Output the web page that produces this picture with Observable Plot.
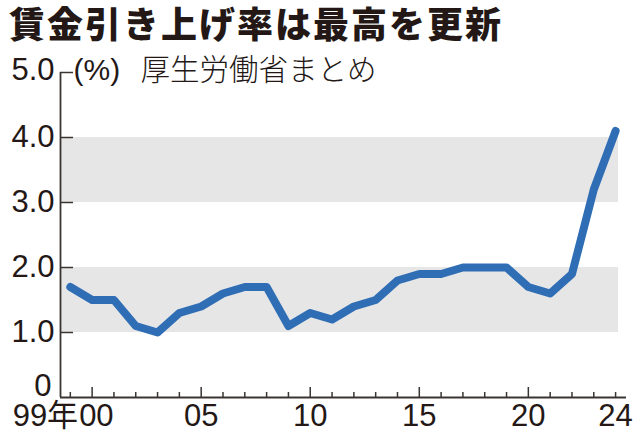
<!DOCTYPE html>
<html><head><meta charset="utf-8">
<script src="https://cdn.jsdelivr.net/npm/d3@7"></script>
<script src="https://cdn.jsdelivr.net/npm/@observablehq/plot@0.6"></script>
<style>
body{margin:0;background:#fff;}
#title{font-family:"Noto Sans CJK JP";font-weight:900;font-size:36px;letter-spacing:2px;line-height:44px;height:44px;padding-left:9px;color:#231815;white-space:nowrap;}
#chart svg{display:block;}
</style></head><body>
<div id="title">賃金引き上げ率は最高を更新</div>
<div id="chart"></div>
<script>
// Data
const years = [1999,2000,2001,2002,2003,2004,2005,2006,2007,2008,2009,2010,2011,2012,2013,2014,2015,2016,2017,2018,2019,2020,2021,2022,2023,2024];
const rates = [1.7,1.5,1.5,1.1,1.0,1.3,1.4,1.6,1.7,1.7,1.1,1.3,1.2,1.4,1.5,1.8,1.9,1.9,2.0,2.0,2.0,1.7,1.6,1.9,3.2,4.1];
const yTicks = [0,1,2,3,4,5];
const yTickLabels = ["0","1.0","2.0","3.0","4.0","5.0"];
const xTicks = [2000,2005,2010,2015,2020,2024];
const xTickLabels = ["00","05","10","15","20","24"];
const firstYearLabel = "99年";
const bands = [[1,2],[3,4]];
const unitLabel = "(%)";
const sourceLabel = "厚生労働省まとめ";

// Layout
const W = 640, H = 396, ML = 60, MR = 14, MT = 28, MB = 43;
const X0 = 1998.55, X1 = 2024.5;
const pxPerYear = (W - ML - MR) / (X1 - X0);
const unitsPerPx = 5 / (H - MT - MB);
const BAND_END = X0 + 558 / pxPerYear;
const ink = "#231815";
const axisInk = "#3a3533";
const num = "Liberation Sans, Arial, sans-serif";
const cjk = "Noto Sans CJK JP, sans-serif";

const yLab = (i) => yTickLabels[i];
const midIdx = [1, 2, 3, 4];

const chart = Plot.plot({
  width: W, height: H,
  marginLeft: ML, marginRight: MR, marginTop: MT, marginBottom: MB,
  x: {domain: [X0, X1], axis: null},
  y: {domain: [0, 5], axis: null},
  style: {background: "#fff", overflow: "visible"},
  marks: [
    Plot.rectY(bands, {x1: () => X0, x2: () => BAND_END, y1: d => d[0], y2: d => d[1], fill: "#e6e6e6"}),
    Plot.ruleY(yTicks.filter(v => v > 0), {x1: () => X0, x2: () => X0 + 13 / pxPerYear, y: d => d, stroke: axisInk, strokeWidth: 1.5}),
    Plot.ruleX(years, {x: d => d, y1: () => 0, y2: d => (d % 5 === 0 ? 10 : 5) * unitsPerPx, stroke: axisInk, strokeWidth: 1.5}),
    Plot.ruleX([X0], {y1: () => 0, y2: () => 5, stroke: axisInk, strokeWidth: 1.8}),
    Plot.ruleY([0], {x1: () => X0, x2: () => X1, stroke: axisInk, strokeWidth: 1.8}),
    Plot.line(rates, {x: (d, i) => years[i], y: d => d, stroke: "#2f6db5", strokeWidth: 8, strokeLinejoin: "round", strokeLinecap: "round"}),
    Plot.text(midIdx, {x: () => X0, y: i => yTicks[i], text: i => yLab(i), textAnchor: "end", dx: -6, fontSize: 31, fontFamily: num, fill: ink}),
    Plot.text([5], {x: () => X0, y: i => yTicks[i], text: i => yLab(i), textAnchor: "end", dx: -6, dy: -2, fontSize: 31, fontFamily: num, fill: ink}),
    Plot.text([0], {x: () => X0, y: i => yTicks[i], text: i => yLab(i), textAnchor: "end", dx: -9, dy: -11, fontSize: 31, fontFamily: num, fill: ink}),
    Plot.text(xTicks.slice(1), {x: d => d, y: () => 0, text: (d, i) => xTickLabels[i + 1], dy: 19, fontSize: 31, fontFamily: num, fill: ink}),
    Plot.text([xTickLabels[0]], {x: () => xTicks[0], y: () => 0, text: d => d, textAnchor: "start", dx: -13, dy: 19, fontSize: 31, fontFamily: num, fill: ink}),
    Plot.text([firstYearLabel], {x: () => xTicks[0], y: () => 0, text: d => d, textAnchor: "end", dx: -14, dy: 19, fontSize: 31, fontFamily: num + ", " + cjk, fill: ink}),
    Plot.text([unitLabel], {x: () => X0, y: () => 5, text: d => d, textAnchor: "start", dx: 13, dy: -2, fontSize: 30, fontFamily: num, fill: ink}),
    Plot.text([sourceLabel], {x: () => X0, y: () => 5, text: d => d, textAnchor: "start", dx: 80, dy: -2, fontSize: 29.5, fontWeight: 300, fontFamily: cjk, fill: ink})
  ]
});
document.getElementById("chart").appendChild(chart);
</script>
</body></html>
